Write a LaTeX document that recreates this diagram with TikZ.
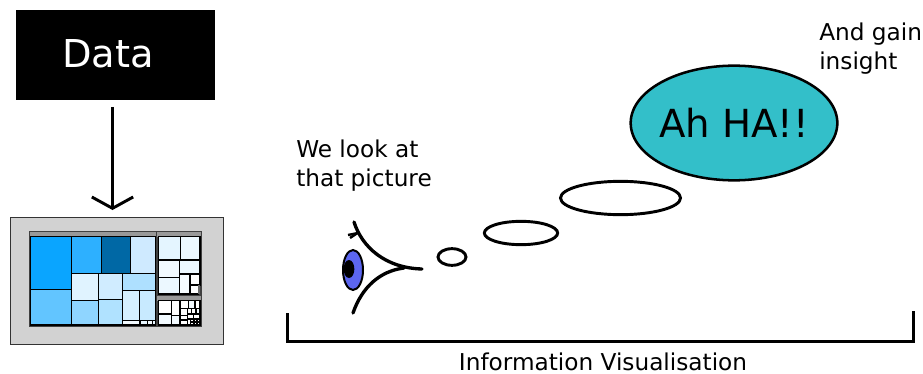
\documentclass[tikz,border=0pt]{standalone}
\usepackage{fontspec}
\setmainfont{DejaVu Sans}
\usepackage{tikz}
\usetikzlibrary{arrows.meta,shapes.geometric}
\definecolor{bubblefill}{HTML}{33BFC9}
\definecolor{irisfill}{HTML}{5C66F0}
\definecolor{framefill}{HTML}{D2D2D2}
\tikzset{
	bubble/.style={draw,ellipse,line width=2.2pt,inner sep=0pt},
	label/.style={align=left,anchor=north west,inner sep=0pt,font=\fontsize{17.4}{21.75}\selectfont},
	cell/.style={draw=black,line width=0.85pt},
	lid/.style={line width=2.5pt,line cap=round}
}
\begin{document}
\begin{tikzpicture}[x=0.75pt,y=-0.75pt]
\useasboundingbox (0,0) rectangle (923,374);
\node[fill=black,text=white,minimum width=149.25pt,minimum height=67.5pt,inner sep=0pt,font=\fontsize{28.8}{36}\selectfont] (data) at (115.5,55) {\raisebox{2pt}{Data}\kern 11pt};
\node[draw=black!80,fill=framefill,line width=0.6pt,minimum width=159.75pt,minimum height=95.25pt,inner sep=0pt] (screen) at (116.5,280.5) {};
\coordinate (arrowstart) at (112.5,107);
\coordinate (arrowend) at (112.5,210);
\draw[line width=2.2pt,-{Straight Barb[length=8.5pt,width=31pt,line width=2.2pt]}] (arrowstart) -- (arrowend);
% treemap, a quarter point per unit
\begin{scope}[shift={(0,205)},x=0.25pt,y=-0.25pt]
\fill[black!75] (86,77) rectangle (606,366);
\fill[black!40] (89,80) rectangle (468,95);
\fill[black!40] (472,80) rectangle (603,95);
\fill[black!40] (472,272) rectangle (603,287);
\foreach \xa/\ya/\xb/\yb/\col in {
	92/95/215/253/0AA5FF, 215/95/305/205/2DB0FF, 305/95/392/205/0068A5, 392/95/467/205/CFEAFF,
	92/253/215/360/62C5FF, 215/205/295/287/E0F3FF, 295/205/368/283/D0ECFF, 368/205/467/257/AEE0FF,
	215/287/295/360/8FD5FF, 295/283/368/360/B0E2FF, 368/257/418/347/D5F0FF, 418/257/467/347/C8EAFF,
	368/347/420/360/F2FAFF, 420/347/443/360/E8F6FF, 443/347/458/360/F2FAFF, 458/347/467/360/E8F6FF,
	475/95/542/165/E4F5FF, 542/95/600/165/ECF8FF, 475/167/538/217/F2FAFF, 538/167/600/207/ECF8FF,
	475/217/538/267/ECF8FF, 538/207/570/267/F6FCFF, 570/207/600/240/FFFFFF, 570/240/595/267/FFFFFF,
	475/287/515/327/FFFFFF, 475/327/515/360/F2FAFF, 515/287/540/332/FFFFFF, 515/332/540/360/F2FAFF,
	540/287/565/310/FFFFFF, 565/287/585/310/F2FAFF, 585/287/600/310/FFFFFF,
	540/310/562/332/FFFFFF, 562/310/575/327/FFFFFF, 575/310/588/327/FFFFFF, 588/310/600/327/F2FAFF,
	540/332/562/345/FFFFFF, 540/345/562/360/FFFFFF, 562/327/580/342/FFFFFF, 580/327/600/342/FFFFFF,
	562/342/572/360/FFFFFF, 572/342/582/351/FFFFFF, 582/342/591/351/FFFFFF, 591/342/600/351/FFFFFF,
	572/351/582/360/FFFFFF, 582/351/591/360/FFFFFF, 591/351/600/360/FFFFFF}
{
	\definecolor{cellfill}{HTML}{\col}
	\draw[cell,fill=cellfill] (\xa,\ya) rectangle (\xb,\yb);
}
\fill[black!60] (595,240) rectangle (600,267);
\end{scope}
% the eye
\draw[lid] (354,222) .. controls (362,247) and (385,268) .. (422,269);
\draw[lid] (353,313) .. controls (362,287) and (380,271) .. (404,268);
\draw[line width=1.8pt] (348,235) -- (358,233);
\draw[line width=1.8pt] (350,238) -- (359,232);
\node[draw,ellipse,fill=irisfill,line width=1.5pt,minimum width=15pt,minimum height=30pt,inner sep=0pt] (iris) at (353,270) {};
\node[ellipse,fill=black,minimum width=8pt,minimum height=13.5pt,inner sep=0pt] (pupil) at (349,269) {};
% thought bubbles
\node[bubble,minimum width=21pt,minimum height=12.5pt] (bubblea) at (452,257) {};
\node[bubble,minimum width=55pt,minimum height=17.5pt] (bubbleb) at (521,233) {};
\node[bubble,minimum width=90pt,minimum height=25pt] (bubblec) at (620.5,198) {};
\node[bubble,fill=bubblefill,line width=1.9pt,minimum width=155pt,minimum height=86pt,font=\fontsize{29}{34}\selectfont] (aha) at (734,123) {\makebox[0pt]{Ah HA!!}};
% captions
\node[label] (look) at (296,140) {We look at\\that picture};
\node[label] (gain) at (819,23) {And gain\\insight};
\node[font=\fontsize{17.4}{21}\selectfont,inner sep=0pt] (infovis) at (603,362) {Information Visualisation};
\coordinate (bracketa) at (287.5,313);
\coordinate (bracketb) at (287.5,341.5);
\coordinate (bracketc) at (913.5,341.5);
\coordinate (bracketd) at (913.5,311);
\draw[line width=2.25pt] (bracketa) -- (bracketb) -- (bracketc) -- (bracketd);
\end{tikzpicture}
\end{document}
